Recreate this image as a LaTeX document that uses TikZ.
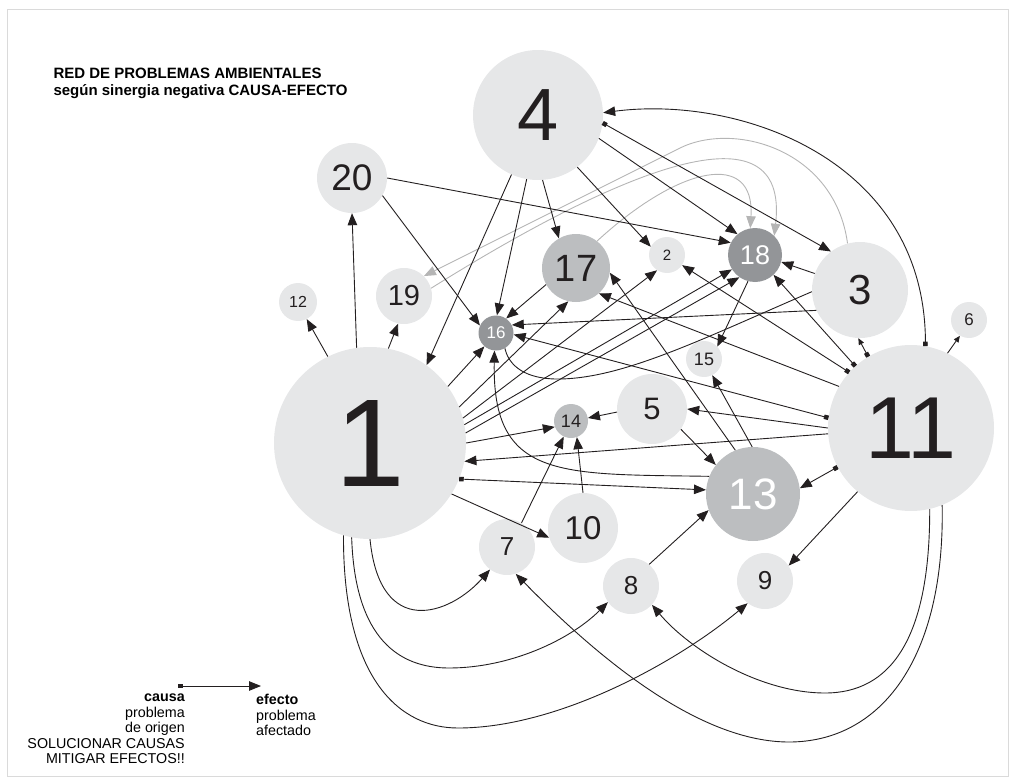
\documentclass[tikz,border=0pt]{standalone}
\usepackage{fontspec}
\setmainfont{Liberation Sans}
\usetikzlibrary{arrows.meta}
\definecolor{cl}{HTML}{E6E7E8}
\definecolor{cm}{HTML}{BCBEC0}
\definecolor{cd}{HTML}{939598}
\definecolor{gl}{HTML}{B5B5B5}
\definecolor{fr}{HTML}{DADADA}
\definecolor{ink}{HTML}{231F20}
\newcommand\fsz[1]{\fontsize{#1}{#1}\selectfont}
\begin{document}
\begin{tikzpicture}[x=1pt,y=-1pt,
  pb/.style={circle,inner sep=0pt,text=ink},
  pl/.style={pb,fill=cl},
  pm/.style={pb,fill=cm},
  pd/.style={pb,fill=cd,text=white},
  ed/.style={draw=ink,line width=0.9pt,-{Triangle[length=12pt,width=9.5pt]}},
  cs/.style={draw=ink,line width=0.9pt,{Square[length=4.5pt,width=4.5pt]}-{Triangle[length=12pt,width=9.5pt]}},
  css/.style={draw=ink,line width=0.9pt,{Square[length=4.5pt,width=4.5pt]}-{Triangle[length=6.5pt,width=5.5pt]}},
  eds/.style={draw=ink,line width=0.9pt,-{Triangle[length=6.5pt,width=5.5pt]}},
  ln/.style={draw=ink,line width=0.9pt},
  gr/.style={draw=gl,line width=0.9pt,-{Triangle[length=12pt,width=9.5pt]}},
  ttl/.style={anchor=base west,font=\bfseries\fsz{15}},
  lg/.style={font=\fontsize{14.3}{15.5}\selectfont,inner sep=0pt}
]
\useasboundingbox (0,0) rectangle (1012,781);
\draw[fr,line width=0.8pt] (7,9) rectangle (1008,776);

\node[ttl] (t1) at (50,79) {RED DE PROBLEMAS AMBIENTALES};
\node[ttl] (t2) at (50,96) {según sinergia negativa CAUSA-EFECTO};

% nodes
\node[pl,minimum size=192pt,font=\fsz{125}] (n1) at (370,443) {1};
\node[pl,minimum size=36pt,font=\fsz{15}] (n2) at (667,255) {2};
\node[pl,minimum size=96pt,font=\fsz{42}] (n3) at (860,290) {3};
\node[pl,minimum size=130pt,font=\fsz{74}] (n4) at (538,115) {4};
\node[pl,minimum size=70pt,font=\fsz{31}] (n5) at (652,409) {5};
\node[pl,minimum size=36pt,font=\fsz{17}] (n6) at (969,320) {6};
\node[pl,minimum size=56pt,font=\fsz{26}] (n7) at (507,547) {7};
\node[pl,minimum size=56pt,font=\fsz{26}] (n8) at (631,586) {8};
\node[pl,minimum size=56pt,font=\fsz{26}] (n9) at (765,581) {9};
\node[pl,minimum size=70pt,font=\fsz{33}] (n10) at (583,528) {10};
\node[pl,minimum size=166pt,font=\fsz{88}] (n11) at (911,428) {11};
\node[pl,minimum size=38pt,font=\fsz{16}] (n12) at (298,302) {12};
\node[pm,minimum size=94pt,font=\fsz{44},text=white] (n13) at (753,494) {13};
\node[pm,minimum size=34pt,font=\fsz{18}] (n14) at (571,421) {14};
\node[pl,minimum size=36pt,font=\fsz{18}] (n15) at (704,359) {15};
\node[pd,minimum size=35pt,font=\fsz{17}] (n16) at (496,333) {16};
\node[pm,minimum size=68pt,font=\fsz{38}] (n17) at (576,268) {17};
\node[pd,minimum size=54pt,font=\fsz{27}] (n18) at (755,255) {18};
\node[pl,minimum size=56pt,font=\fsz{29}] (n19) at (404,296) {19};
\node[pl,minimum size=70pt,font=\fsz{37}] (n20) at (352,178) {20};

% grey links
\draw[gr] (n17.52) .. controls (680,165) and (755,150) .. (n18.100);
\draw[gr] (n19.16) .. controls (620,170) and (790,100) .. (n18.45);
\draw[gr] (n3.105) .. controls (835,150) and (735,121) .. (680,148) -- (n19.45);

% from 4
\draw[ed] (n4.246) -- (n1.54);
\draw[ed] (n4.260) -- (n16.87);
\draw[ed] (n4.274) -- (n17.120);
\draw[ed] (n4.307) -- (n2.153);
\draw[ed] (n4.339) -- (n18.130);
\draw[cs] (n4.353) -- (n3.127);

% from 20
\draw[ed] (n20.east) -- (n18.153);
\draw[ed] (n20.330) -- (n16.155);

% from 1
\draw[ed] (n1.116) -- (n12.297);
\draw[ed] (n1.98) -- (n20.270);
\draw[ed] (n1.79) -- (n19.258);
\draw[ed] (n1.36) -- (n16.229);
\draw[ed] (n1.22) -- (n17.257);
\draw[ed] (n1.15) -- (n2.237);
\draw[ed] (n1.11) -- (n18.212);
\draw[ed] (n1.6) -- (n18.235);
\draw[ed] (n1.0) -- (n14.200);
\draw[cs] (n1.338) -- (n13.175);
\draw[ed] (n1.328) -- (n10.196);
\draw[ed] (n1.270) .. controls (380,640) and (450,615) .. (n7.233);
\draw[ed] (n1.259) .. controls (355,640) and (400,668) .. (449,668) .. controls (510,668) and (570,640) .. (n8.215);
\draw[ed] (n1.254) .. controls (343,680) and (400,728) .. (458,728) .. controls (560,728) and (680,660) .. (n9.232);

% from 11
\draw[cs] (n11.80) .. controls (925,160) and (740,95) .. (n4.2);
\draw[css] (n11.121) -- (n3.268);
\draw[cs] (n11.132) -- (n18.313);
\draw[cs] (n11.138) -- (n2.326);
\draw[ed] (n11.150) -- (n17.312);
\draw[cs] (n11.173) -- (n16.355);
\draw[ed] (n11.180) -- (n5.east);
\draw[ed] (n11.184) -- (n1.349);
\draw[cs] (n11.208) -- (n13.7);
\draw[ed] (n11.230) -- (n9.33);
\draw[eds] (n11.64) -- (n6.240);
\draw[ed] (n11.283) .. controls (930,640) and (890,693) .. (825,693) .. controls (760,693) and (690,650) .. (n8.318);
\draw[ed] (n11.292) .. controls (945,660) and (880,742) .. (789,742) .. controls (700,742) and (600,660) .. (n7.288);

% from 3
\draw[ed] (n3.160) -- (n18.345);
\draw[ed] (n3.205) -- (n16.27);
\draw[ln] (n3.182) .. controls (700,340) and (620,380) .. (555,379) .. controls (520,378) and (508,362) .. (n16.300);

% others
\draw[ed] (n17.209) -- (n16.55);
\draw[ed] (n13.158) .. controls (560,474) and (492,480) .. (n16.265);
\draw[ed] (n13.112) -- (n17.352);
\draw[ed] (n13.91) -- (n15.297);
\draw[ed] (n18.255) -- (n15.43);
\draw[ed] (n5.185) -- (n14.10);
\draw[ed] (n5.325) -- (n13.142);
\draw[ed] (n7.59) -- (n14.245);
\draw[ed] (n10.north) -- (n14.290);
\draw[ed] (n8.50) -- (n13.200);

% legend
\coordinate (lc) at (178,686);
\coordinate (le) at (261,686);
\draw[cs] (lc) -- (le);
\node[lg,anchor=north east,align=right] (lca) at (185,694) {\textbf{causa}\\problema\\de origen\\SOLUCIONAR CAUSAS\\MITIGAR EFECTOS!!};
\node[lg,anchor=north west,align=left] (lef) at (256,694) {\textbf{efecto}\\problema\\afectado};
\end{tikzpicture}
\end{document}
